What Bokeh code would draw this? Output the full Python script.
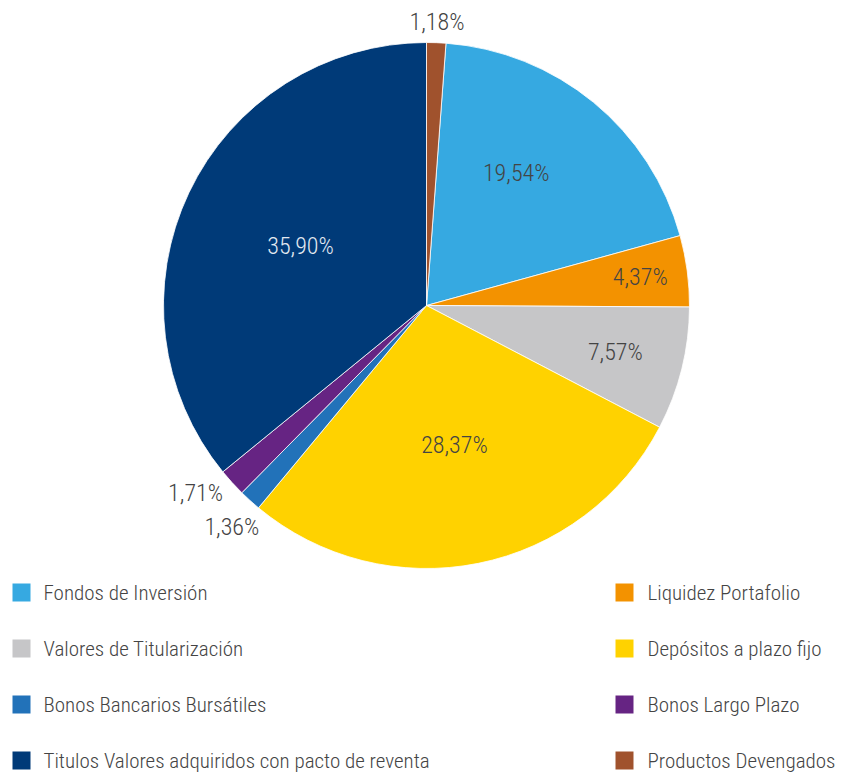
import math
from bokeh.plotting import figure
from bokeh.models import Range1d, ColumnDataSource
from bokeh.core.properties import value
from bokeh.embed import file_html
from bokeh.resources import INLINE

# ---- data ----
categories = ["Fondos de Inversión", "Liquidez Portafolio", "Valores de Titularización",
              "Depósitos a plazo fijo", "Bonos Bancarios Bursátiles", "Bonos Largo Plazo",
              "Titulos Valores adquiridos con pacto de reventa", "Productos Devengados"]
shares = [19.54, 4.37, 7.57, 28.37, 1.36, 1.71, 35.90, 1.18]
labels = ["19,54%", "4,37%", "7,57%", "28,37%", "1,36%", "1,71%", "35,90%", "1,18%"]
colors = ["#36A9E1", "#F39200", "#C6C6C8", "#FFD200", "#2272B9", "#662483", "#003A78", "#A0522D"]

# ---- style / layout ----
W, H = 842, 776
CX, CY = 426, 305          # pie centre in figure pixels (from top-left)
R = 263
label_r = [0.61, 0.82, 0.74, 0.54, 1.12, 1.13, 0.53, 1.08]
label_da = [-5.4, 0, 0, 0, -0.8, 3.3, 0, 0]   # angular nudges (deg)
label_col = ["#444444", "#444444", "#444444", "#444444", "#444444", "#444444", "#e3e9f1", "#444444"]
FONT = "'Roboto Condensed Light', 'Roboto Condensed', 'Liberation Sans Narrow', 'DejaVu Sans Condensed', sans-serif"

p = figure(width=W, height=H, output_backend="svg", toolbar_location=None,
           x_range=Range1d(-CX, W - CX), y_range=Range1d(-(H - CY), CY),
           min_border=0, outline_line_color=None)
p.axis.visible = False
p.grid.visible = False
p.background_fill_color = "white"

# pie: the last slice starts at the top; the rest follow clockwise
total = sum(shares)
offset = shares[-1] / total * 2 * math.pi
starts, ends, lx, ly = [], [], [], []
cum = offset
for i, s in enumerate(shares):
    if i == len(shares) - 1:
        t1, t2 = 0.0, offset
    else:
        t1 = cum
        t2 = cum + s / total * 2 * math.pi
        cum = t2
    starts.append(math.pi / 2 - t2)
    ends.append(math.pi / 2 - t1)
    mid = (t1 + t2) / 2 + math.radians(label_da[i])
    lx.append(R * label_r[i] * math.sin(mid))
    ly.append(R * label_r[i] * math.cos(mid))

src = ColumnDataSource(dict(start=starts, end=ends, color=colors, lx=lx, ly=ly,
                            label=labels, lc=label_col))
p.wedge(x=0, y=0, radius=R, start_angle="start", end_angle="end", direction="anticlock",
        fill_color="color", line_color="white", line_width=0.8, source=src)
p.text(x="lx", y="ly", text="label", text_color="lc", text_font=value(FONT),
       text_font_size="24px", text_align="center", text_baseline="middle", source=src)

# legend: two columns, row-major
sq_x = [-405, 198]
tx_x = [-383, 221]
row_y0, row_dy = -287, 56
gx, gy, tx, ty = [], [], [], []
for i in range(len(categories)):
    col, row = i % 2, i // 2
    gx.append(sq_x[col]); gy.append(row_y0 - row * row_dy)
    tx.append(tx_x[col]); ty.append(row_y0 - row * row_dy)
lsrc = ColumnDataSource(dict(gx=gx, gy=gy, tx=tx, ty=ty, name=categories, color=colors))
p.rect(x="gx", y="gy", width=18, height=18, fill_color="color", line_color=None, source=lsrc)
p.text(x="tx", y="ty", text="name", text_color="#444444", text_font=value(FONT),
       text_font_size="21px", text_align="left", text_baseline="middle", source=lsrc)

open("out.html", "w").write(file_html(p, INLINE))
